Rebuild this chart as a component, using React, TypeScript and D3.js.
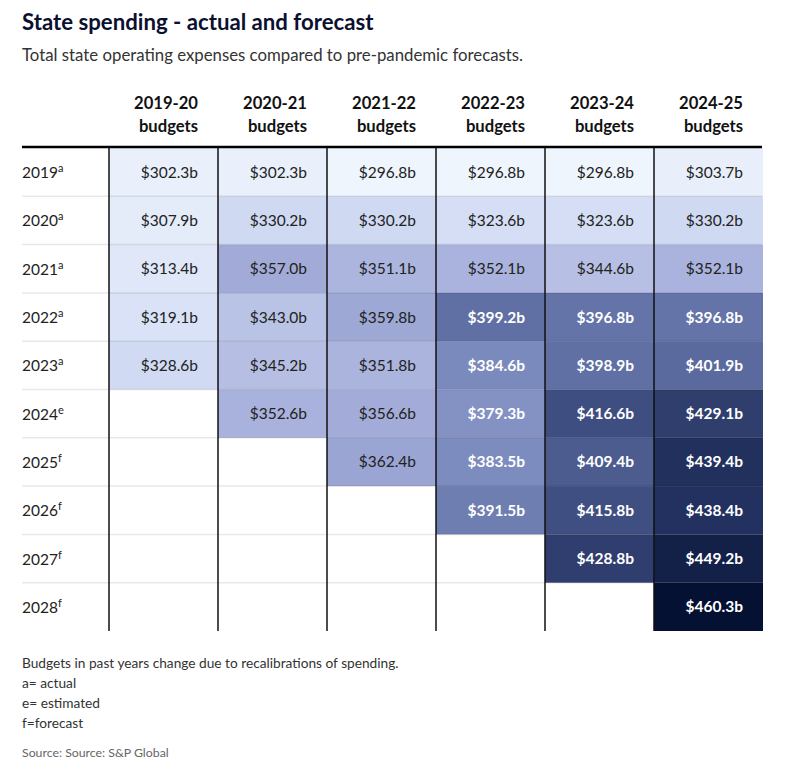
import React from "react";
import * as d3 from "d3";

const columns = ["2019-20", "2020-21", "2021-22", "2022-23", "2023-24", "2024-25"];
const rowYears = ["2019", "2020", "2021", "2022", "2023", "2024", "2025", "2026", "2027", "2028"];
const rowSup = ["a", "a", "a", "a", "a", "e", "f", "f", "f", "f"];

const budget2019_20 = [302.3, 307.9, 313.4, 319.1, 328.6, null, null, null, null, null];
const budget2020_21 = [302.3, 330.2, 357.0, 343.0, 345.2, 352.6, null, null, null, null];
const budget2021_22 = [296.8, 330.2, 351.1, 359.8, 351.8, 356.6, 362.4, null, null, null];
const budget2022_23 = [296.8, 323.6, 352.1, 399.2, 384.6, 379.3, 383.5, 391.5, null, null];
const budget2023_24 = [296.8, 323.6, 344.6, 396.8, 398.9, 416.6, 409.4, 415.8, 428.8, null];
const budget2024_25 = [303.7, 330.2, 352.1, 396.8, 401.9, 429.1, 439.4, 438.4, 449.2, 460.3];

const series: (number | null)[][] = [
  budget2019_20,
  budget2020_21,
  budget2021_22,
  budget2022_23,
  budget2023_24,
  budget2024_25,
];

const notes = [
  "Budgets in past years change due to recalibrations of spending.",
  "a= actual",
  "e= estimated",
  "f=forecast",
];

const FONT = "Lato, 'Open Sans', sans-serif";

export default function App() {
  const x = d3.scaleBand<string>().domain(columns).range([109, 763]).padding(0);
  const y = d3.scaleBand<string>().domain(rowYears).range([148, 631]).padding(0);
  const color = d3
    .scaleLinear<string>()
    .domain([296.8, 330, 357, 384, 399, 416, 438, 460.3])
    .range(["#eef5fd", "#cfd9f2", "#a2abd8", "#7c8bbe", "#6070a4", "#404f81", "#233260", "#041133"])
    .clamp(true);

  const cells: { c: string; r: string; v: number }[] = [];
  series.forEach((vals, ci) =>
    vals.forEach((v, ri) => {
      if (v != null) cells.push({ c: columns[ci], r: rowYears[ri], v });
    })
  );

  return (
    <svg
      width={800}
      height={769}
      style={{ position: "absolute", left: 0, top: 0, background: "#fff" }}
      fontFamily={FONT}
    >
      <text x={22} y={30} fontSize={22.2} fontWeight={700} fill="#0b1030">
        State spending - actual and forecast
      </text>
      <text x={22} y={61} fontSize={16.8} fill="#333">
        Total state operating expenses compared to pre-pandemic forecasts.
      </text>

      {columns.map((c) => (
        <g key={c} fontSize={16.6} fontWeight={700} fill="#111" textAnchor="end">
          <text x={(x(c) as number) + x.bandwidth() - 20} y={109}>{c}</text>
          <text x={(x(c) as number) + x.bandwidth() - 20} y={132}>budgets</text>
        </g>
      ))}

      {cells.map((d) => (
        <rect
          key={d.c + d.r}
          x={x(d.c)}
          y={y(d.r)}
          width={x.bandwidth()}
          height={y.bandwidth()}
          fill={color(d.v)}
        />
      ))}

      {rowYears.slice(1).map((r) => (
        <line key={r} x1={22} x2={762} y1={y(r)} y2={y(r)} stroke="rgba(0,0,0,0.09)" strokeWidth={1.5} />
      ))}

      {columns.map((c) => (
        <line key={c} x1={x(c)} x2={x(c)} y1={148} y2={631} stroke="#111" strokeWidth={1.5} />
      ))}

      <line x1={22} x2={762} y1={147} y2={147} stroke="#000" strokeWidth={2.5} />

      {rowYears.map((r, i) => (
        <text key={r} x={22} y={(y(r) as number) + y.bandwidth() / 2 + 6} fontSize={15.5} fill="#222">
          {r}
          <tspan fontSize={11} dy={-6}>{rowSup[i]}</tspan>
        </text>
      ))}

      {cells.map((d) => (
        <text
          key={"t" + d.c + d.r}
          x={(x(d.c) as number) + x.bandwidth() - 20}
          y={(y(d.r) as number) + y.bandwidth() / 2 + 5.5}
          textAnchor="end"
          fontSize={15.5}
          fontWeight={d.v > 370 ? 700 : 400}
          fill={d.v > 370 ? "#fff" : "#222"}
        >
          ${d.v.toFixed(1)}b
        </text>
      ))}

      {notes.map((n, i) => (
        <text key={n} x={22} y={668 + i * 20} fontSize={13.7} fill="#333">
          {n}
        </text>
      ))}
      <text x={22} y={757} fontSize={12.3} fill="#666">
        Source: Source: S&amp;P Global
      </text>
    </svg>
  );
}
